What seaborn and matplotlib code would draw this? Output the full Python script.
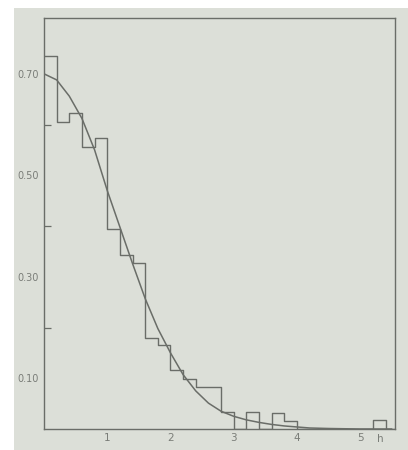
import numpy as np
import pandas as pd
import matplotlib
matplotlib.use("Agg")
import matplotlib.pyplot as plt
from matplotlib.patches import Rectangle
from matplotlib.ticker import FixedLocator
import seaborn as sns

# histograma (classes de largura 0.2)
bordas = [round(0.2 * i, 1) for i in range(29)]
alturas = [0.735, 0.606, 0.622, 0.556, 0.573,
           0.394, 0.343, 0.328, 0.180, 0.165,
           0.116, 0.098, 0.082, 0.082, 0.034,
           0.0, 0.033, 0.0, 0.031, 0.016,
           0.0, 0.0, 0.0, 0.0, 0.0,
           0.0, 0.018, 0.0]

# curva ajustada, pontos
curva_x = [0.0, 0.2, 0.4, 0.6, 0.8, 1.0, 1.2, 1.4, 1.6, 1.8, 2.0, 2.2, 2.4,
           2.6, 2.8, 3.0, 3.2, 3.4, 3.6, 3.8, 4.0, 4.2, 4.5, 5.0, 5.5]
curva_y = [0.700, 0.688, 0.656, 0.612, 0.550, 0.470, 0.398, 0.326, 0.257,
           0.198, 0.150, 0.107, 0.075, 0.051, 0.035, 0.025, 0.018, 0.013,
           0.009, 0.006, 0.004, 0.002, 0.001, 0.0, 0.0]

y_rotulos = [0.10, 0.30, 0.50, 0.70]
y_menores = [0.20, 0.40, 0.60]
x_rotulos = [1, 2, 3, 4, 5]

df = pd.DataFrame({'centro': [b + 0.1 for b in bordas[:-1]], 'altura': alturas})
df_curva = pd.DataFrame({'x': curva_x, 'y': curva_y})

sns.set_theme(style='white')
plt.rcParams['font.family'] = ['DejaVu Sans']

papel = '#dcdfd8'
tinta = '#6a6d68'

fig = plt.figure(figsize=(4.08, 4.5), dpi=100)
fig.patch.set_facecolor('white')
fig.patches.append(Rectangle((14 / 408, 0), 1, (450 - 8) / 450,
                             transform=fig.transFigure, facecolor=papel,
                             edgecolor='none', zorder=-10))
ax = fig.add_axes([44 / 408, 21 / 450, 351 / 408, 411 / 450])
ax.set_facecolor(papel)

sns.histplot(data=df, x='centro', weights='altura', bins=bordas,
             element='step', fill=False, color=tinta, linewidth=1.0, ax=ax)
sns.lineplot(data=df_curva, x='x', y='y', color=tinta, linewidth=1.1, ax=ax)

ax.set_xlim(0, 5.55)
ax.set_ylim(0, 0.81)
ax.set_xlabel('')
ax.set_ylabel('')

ax.set_yticks(y_rotulos)
ax.set_yticklabels(['%.2f' % v for v in y_rotulos])
ax.yaxis.set_minor_locator(FixedLocator(y_menores))
ax.set_xticks(x_rotulos)
ax.set_xticklabels([str(v) for v in x_rotulos])

ax.tick_params(axis='y', which='major', direction='out', length=3,
               width=0.9, color=tinta, labelsize=7, labelcolor='#7a7d78', pad=1)
ax.tick_params(axis='y', which='minor', direction='in', length=5,
               width=0.9, color=tinta, left=True)
ax.tick_params(axis='x', which='major', direction='in', length=5,
               width=0.9, color=tinta, labelsize=7.5, labelcolor='#7a7d78', pad=3)

ax.text(5.32, -0.012, 'h', transform=ax.get_xaxis_transform(),
        ha='center', va='top', fontsize=7.5, color='#7a7d78')

for lado in ax.spines.values():
    lado.set_color(tinta)
    lado.set_linewidth(1.0)

fig.savefig('out.png', dpi=100, facecolor=fig.get_facecolor())
